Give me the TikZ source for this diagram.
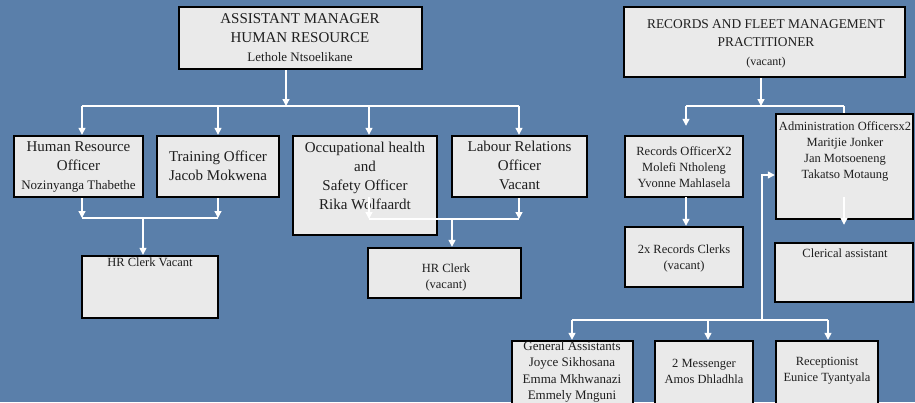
\documentclass[tikz,border=0pt]{standalone}
\usepackage{fontspec}
\setmainfont{Liberation Serif}
\usetikzlibrary{arrows.meta,fit}
\definecolor{bg}{HTML}{5A7FAA}
\definecolor{boxfill}{HTML}{EAEAEA}
\definecolor{ink}{HTML}{1E1E1E}
\tikzset{
  box/.style={draw=black, line width=2.4pt, fill=boxfill, inner sep=0pt},
  lbl/.style={align=center, inner sep=0pt, text=ink},
  big/.style={font=\fontsize{15}{19}\selectfont},
  mid/.style={font=\fontsize{13.4}{18.5}\selectfont},
  small/.style={font=\fontsize{12.5}{16}\selectfont},
  wire/.style={draw=white, line width=1.3pt},
  arr/.style={wire, -{Triangle[width=7pt,length=7pt]}},
}
\begin{document}
\begin{tikzpicture}[x=1pt,y=-1pt]
\fill[bg] (0,0) rectangle (915,402);
\useasboundingbox (0,0) rectangle (915,402);
\clip (0,0) rectangle (915,402);

% ---------- Human resource side ----------
\node[box, fit={(179,7) (422,69)}] (am) {};
\node[lbl, big] (am-t) at (300,38) {ASSISTANT MANAGER\\HUMAN RESOURCE\\{\fontsize{13}{19}\selectfont Lethole Ntsoelikane}};

\node[box, fit={(14,136) (143,197)}] (hro) {};
\node[lbl, big] (hro-t) at (78.5,166.5) {Human Resource\\Officer\\{\fontsize{13}{19}\selectfont Nozinyanga Thabethe}};

\node[box, fit={(157,136) (279,197)}] (tro) {};
\node[lbl, big] (tro-t) at (218,165.5) {Training Officer\\Jacob Mokwena};

\node[box, fit={(293,136) (437,235)}] (ohs) {};
\node[lbl, big] (ohs-t) at (365,176) {Occupational health\\and\\Safety Officer\\Rika Wolfaardt};

\node[box, fit={(452,136) (587,197)}] (lro) {};
\node[lbl, big] (lro-t) at (519.5,165.5) {Labour Relations\\Officer\\Vacant};

\node[box, fit={(82,256) (218,318)}] (hrc1) {};
\node[lbl, small, anchor=north] (hrc1-t) at (150,258) {HR Clerk Vacant};

\node[box, fit={(368,248) (521,298)}] (hrc2) {};
\node[lbl, small] (hrc2-t) at (446,277) {HR Clerk\\(vacant)};

% ---------- Records and fleet side ----------
\node[box, fit={(624,7) (905,77)}] (rfm) {};
\node[lbl, mid] (rfm-t) at (766,43.5) {RECORDS AND FLEET MANAGEMENT\\PRACTITIONER\\{\fontsize{12}{18.5}\selectfont (vacant)}};

\node[box, fit={(625,136) (743,197)}] (rec) {};
\node[lbl, small] (rec-t) at (684,167) {Records OfficerX2\\Molefi Ntholeng\\Yvonne Mahlasela};

\node[box, fit={(625,227) (743,287)}] (rcl) {};
\node[lbl, small] (rcl-t) at (684,258) {2x Records Clerks\\(vacant)};

\node[box, fit={(776,114) (913,219)}] (adm) {};
\node[lbl, small] (adm-t) at (845,151) {Administration Officersx2\\Maritjie Jonker\\Jan Motsoeneng\\Takatso Motaung};

\node[box, fit={(775,243) (913,302)}] (cla) {};
\node[lbl, small, anchor=north] (cla-t) at (845,249) {Clerical assistant};

\node[box, fit={(512,341) (633,412)}] (gas) {};
\node[lbl, small, anchor=north, font=\fontsize{13}{16.5}\selectfont] (gas-t) at (572,341) {General Assistants\\Joyce Sikhosana\\Emma Mkhwanazi\\Emmely Mnguni};

\node[box, fit={(655,341) (753,412)}] (msg) {};
\node[lbl, small] (msg-t) at (704,371) {2 Messenger\\Amos Dhladhla};

\node[box, fit={(776,341) (878,412)}] (rcp) {};
\node[lbl, small] (rcp-t) at (827,371) {Receptionist\\Eunice Tyantyala};

% ---------- connectors, HR ----------
\coordinate (amj) at (286,106);
\coordinate (busL) at (82,106);
\coordinate (busT) at (218,106);
\coordinate (busO) at (369,106);
\coordinate (busR) at (519,106);
\draw[arr] (am.south -| amj) -- (amj);
\draw[wire] (busL) -- (busR);
\draw[arr] (busL) -- (busL |- hro.north);
\draw[arr] (busT) -- (busT |- tro.north);
\draw[arr] (busO) -- (busO |- ohs.north);
\draw[arr] (busR) -- (busR |- lro.north);

\coordinate (lowL) at (82,218);
\coordinate (lowT) at (218,218);
\coordinate (lowM) at (143,218);
\draw[arr] (lowL |- hro.south) -- (lowL);
\draw[arr] (lowT |- tro.south) -- (lowT);
\draw[wire] (lowL) -- (lowT);
\draw[arr] (lowM) -- (lowM |- hrc1.north);

\coordinate (ohsS) at (369,197);
\coordinate (lowO) at (369,219);
\coordinate (lowR) at (519,219);
\coordinate (lowC) at (452,219);
\draw[arr] (ohsS) -- (lowO);
\draw[arr] (lowR |- lro.south) -- (lowR);
\draw[wire] (lowO) -- (lowR);
\draw[arr] (lowC) -- (lowC |- hrc2.north);

% ---------- connectors, records ----------
\coordinate (rfj) at (761,106);
\coordinate (rbL) at (686,106);
\coordinate (rbR) at (844,106);
\draw[arr] (rfm.south -| rfj) -- (rfj);
\draw[wire] (rbL) -- (rbR);
\draw[arr] (rbL) -- ([yshift=9pt]rbL |- rec.north);
\draw[wire] (rbR) -- (rbR |- adm.north);
\coordinate (recj) at (686,197);
\draw[arr] (recj) -- (recj |- rcl.north);
\coordinate (admj) at (844,197);
\draw[arr] (admj) -- ([yshift=17pt]admj |- cla.north);

\coordinate (vbus) at (762,320);
\coordinate (vtop) at (762,175);
\coordinate (gbL) at (572,320);
\coordinate (gbM) at (708,320);
\coordinate (gbR) at (828,320);
\draw[arr] (vbus) -- (vtop) -- (vtop -| adm.west);
\draw[wire] (gbL) -- (gbR);
\draw[arr] (gbL) -- (gbL |- gas.north);
\draw[arr] (gbM) -- (gbM |- msg.north);
\draw[arr] (gbR) -- (gbR |- rcp.north);
\end{tikzpicture}
\end{document}
